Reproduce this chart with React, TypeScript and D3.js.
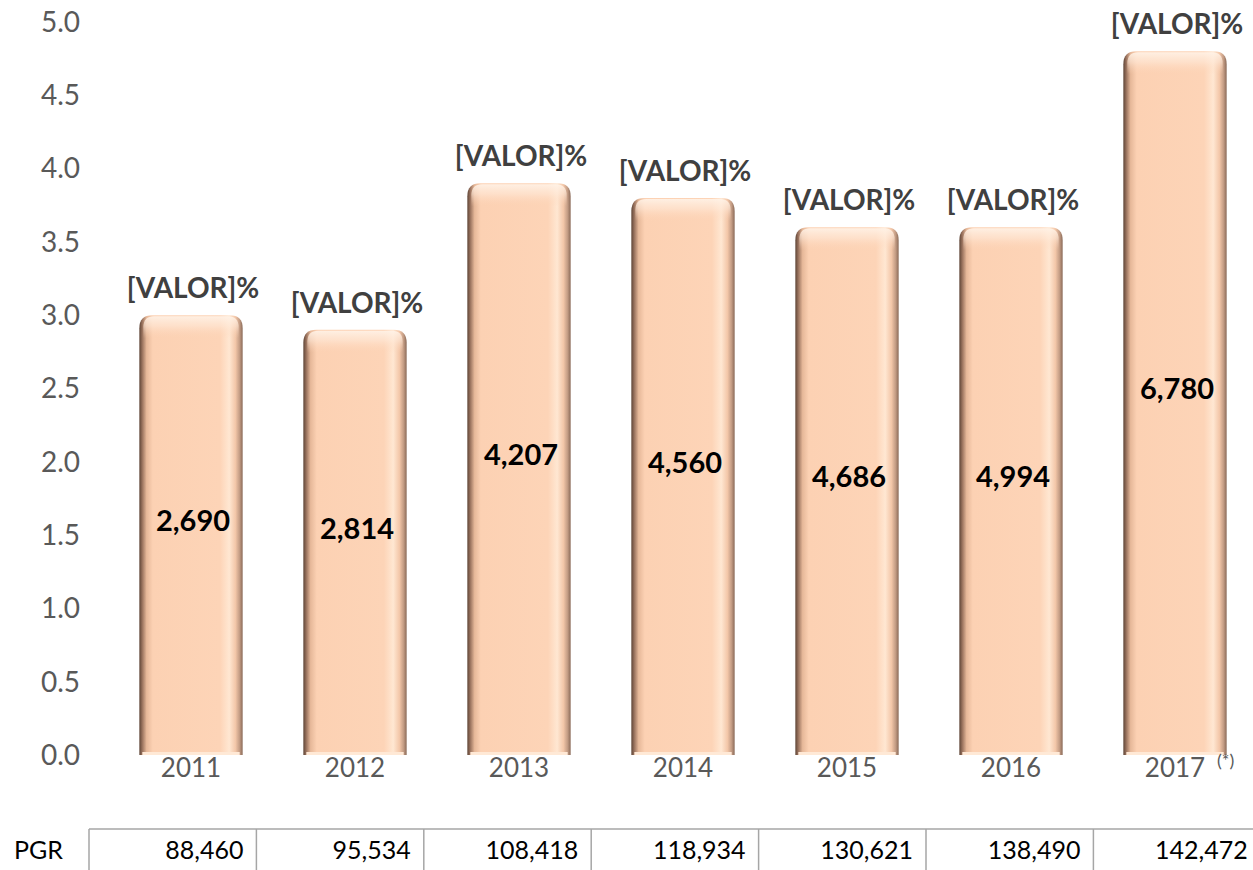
import React from 'react';
import * as d3 from 'd3';

const years = ['2011', '2012', '2013', '2014', '2015', '2016', '2017'];
const rates = [3.0, 2.9, 3.9, 3.8, 3.6, 3.6, 4.8];
const amounts = ['2,690', '2,814', '4,207', '4,560', '4,686', '4,994', '6,780'];
const pgr = ['88,460', '95,534', '108,418', '118,934', '130,621', '138,490', '142,472'];
const yTicks = [0, 0.5, 1, 1.5, 2, 2.5, 3, 3.5, 4, 4.5, 5];
const topLabel = '[VALOR]%';

const W = 1253;
const H = 870;
const FONT = 'Lato, "Open Sans", sans-serif';

function barPath(x, y, w, h, r) {
    // rounded top corners only
    const p = d3.path();
    p.moveTo(x, y + h);
    p.lineTo(x, y + r);
    p.quadraticCurveTo(x, y, x + r, y);
    p.lineTo(x + w - r, y);
    p.quadraticCurveTo(x + w, y, x + w, y + r);
    p.lineTo(x + w, y + h);
    p.closePath();
    return p.toString();
}

export default function App() {
    const xScale = d3.scalePoint().domain(years).range([109, 1257]).padding(0.5);
    const step = xScale.step();
    const barW = step * 0.63;

    const yScale = d3.scaleLinear().domain([0, 5]).range([755, 22]);

    const tableX = d3.scaleBand().domain(years).range([89, 89 + 7 * 167.4]);
    const tableTop = 829;

    const fmt = d3.format('.1f');

    return (
        <svg width={W} height={H} style={{ position: 'fixed', left: 0, top: 0, background: '#fff' }}>
            <defs>
                <linearGradient id="barSide" x1="0" x2="1" y1="0" y2="0">
                    <stop offset="0%" stopColor="#5e4436" />
                    <stop offset="3%" stopColor="#9c7560" />
                    <stop offset="7%" stopColor="#e6b899" />
                    <stop offset="13%" stopColor="#fcd1b3" />
                    <stop offset="78%" stopColor="#fdd4b7" />
                    <stop offset="87%" stopColor="#ffe7d2" />
                    <stop offset="93%" stopColor="#f3c7a9" />
                    <stop offset="97%" stopColor="#c39c84" />
                    <stop offset="100%" stopColor="#8a6a58" />
                </linearGradient>
                <linearGradient id="barTop" x1="0" x2="0" y1="0" y2="1">
                    <stop offset="0%" stopColor="#fff3e8" stopOpacity="0.9" />
                    <stop offset="45%" stopColor="#ffe9d8" stopOpacity="0.6" />
                    <stop offset="100%" stopColor="#fdd4b7" stopOpacity="0" />
                </linearGradient>
            </defs>

            {/* y axis labels */}
            {yTicks.map((t) => (
                <text
                    key={t}
                    x={80}
                    y={yScale(t)}
                    dy="0.35em"
                    textAnchor="end"
                    fontFamily={FONT}
                    fontSize={28}
                    fill="#595959"
                >
                    {fmt(t)}
                </text>
            ))}

            {/* bars */}
            {years.map((yr, i) => {
                const cx = xScale(yr);
                const x = cx - barW / 2;
                const y = yScale(rates[i]);
                const h = yScale(0) - y;
                return (
                    <g key={yr}>
                        <path d={barPath(x, y, barW, h, 13)} fill="url(#barSide)" />
                        <path
                            d={barPath(x + 4, y + 1, barW - 8, 22, 11)}
                            fill="url(#barTop)"
                        />
                        <rect x={x + 3} y={yScale(0) - 3} width={barW - 6} height={3} fill="#ffe9d6" />
                        <text
                            x={cx + 2}
                            y={y - 17}
                            textAnchor="middle"
                            fontFamily={FONT}
                            fontWeight="bold"
                            fontSize={28}
                            fill="#404040"
                        >
                            {topLabel}
                        </text>
                        <text
                            x={cx + 2}
                            y={(y + yScale(0)) / 2 - 14}
                            dy="0.35em"
                            textAnchor="middle"
                            fontFamily={FONT}
                            fontWeight="bold"
                            fontSize={29}
                            fill="#000"
                        >
                            {amounts[i]}
                        </text>
                        <text
                            x={cx}
                            y={768}
                            dy="0.35em"
                            textAnchor="middle"
                            fontFamily={FONT}
                            fontSize={26}
                            fill="#595959"
                        >
                            {yr}
                        </text>
                    </g>
                );
            })}
            <text
                x={xScale('2017') + 42}
                y={767}
                fontFamily={FONT}
                fontSize={18}
                fill="#595959"
            >
                (*)
            </text>

            {/* data table */}
            <text x={14} y={850} dy="0.35em" fontFamily={FONT} fontSize={25} fill="#000">
                PGR
            </text>
            <line x1={89} x2={W} y1={tableTop} y2={tableTop} stroke="#a6a6a6" strokeWidth={1.5} />
            {years.map((yr, i) => {
                const x0 = tableX(yr);
                return (
                    <g key={'t' + yr}>
                        <line x1={x0} x2={x0} y1={tableTop} y2={H} stroke="#a6a6a6" strokeWidth={1.5} />
                        <text
                            x={x0 + tableX.bandwidth() - 13}
                            y={850}
                            dy="0.35em"
                            textAnchor="end"
                            fontFamily={FONT}
                            fontSize={25}
                            fill="#000"
                        >
                            {pgr[i]}
                        </text>
                    </g>
                );
            })}
        </svg>
    );
}
